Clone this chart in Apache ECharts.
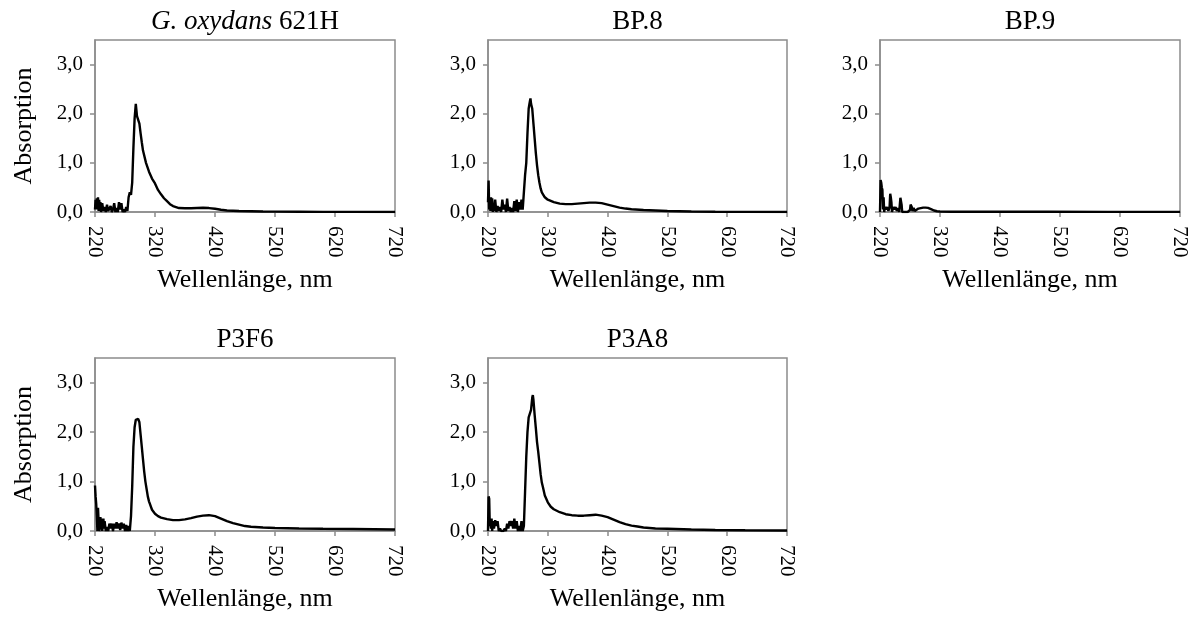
<!DOCTYPE html>
<html>
<head>
<meta charset="utf-8">
<script src="https://cdn.jsdelivr.net/npm/echarts@6/dist/echarts.min.js"></script>
<style>
html,body{margin:0;padding:0;background:#fff;}
#chart{width:1193px;height:617px;}
</style>
</head>
<body>
<div id="chart"></div>
<script>
// ---- Data (wavelength in nm, absorption) ----
const panelTitles = ['{i|G. oxydans} 621H', 'BP.8', 'BP.9', 'P3F6', 'P3A8'];
const xTicks = [220, 320, 420, 520, 620, 720];
const yTicks = [0, 1, 2, 3];

const wlGox = [220,221,222,223,224,225,226,227,228,229,230,232,234,236,238,240,242,244,246,248,250,252,254,256,258,260,262,264,266,268,270,272,274,276,278,280,282,284,286,288,290,292,294,296,298,300,305,310,315,320,325,330,335,340,345,350,355,360,370,380,390,400,410,420,430,440,450,460,480,500,520,560,600,650,720];
const absGox = [0.05,0.25,0.05,0.28,0.10,0.30,0.02,0.25,0.05,0.20,0.00,0.18,0.02,0.10,0.00,0.15,0.02,0.00,0.12,0.00,0.05,0.18,0.00,0.08,0.00,0.20,0.05,0.18,0.00,0.05,0.00,0.10,0.02,0.30,0.40,0.35,0.60,1.30,1.90,2.20,1.95,1.98,1.80,1.60,1.42,1.25,1.00,0.82,0.68,0.58,0.45,0.36,0.28,0.22,0.16,0.12,0.10,0.08,0.075,0.075,0.08,0.085,0.08,0.065,0.045,0.03,0.025,0.02,0.015,0.01,0.008,0.005,0.003,0.002,0.0];

const wlBP8 = [220,221,222,223,224,225,226,227,228,229,230,232,234,236,238,240,242,244,246,248,250,252,254,256,258,260,262,264,266,268,270,272,274,276,278,280,282,284,286,288,289,290,291,292,294,296,298,300,302,304,306,308,310,315,320,330,340,350,360,370,380,390,400,410,420,430,440,450,460,480,500,520,560,600,650,720];
const absBP8 = [0.20,0.64,0.05,0.25,0.02,0.30,0.05,0.28,0.00,0.15,0.02,0.25,0.00,0.12,0.02,0.10,0.00,0.25,0.05,0.15,0.00,0.27,0.02,0.10,0.00,0.08,0.00,0.22,0.02,0.25,0.00,0.20,0.05,0.25,0.05,0.40,0.75,1.00,1.60,2.10,2.18,2.25,2.31,2.20,2.10,1.80,1.50,1.20,0.95,0.75,0.60,0.48,0.40,0.30,0.25,0.20,0.17,0.16,0.16,0.17,0.18,0.19,0.19,0.18,0.15,0.12,0.09,0.07,0.055,0.04,0.03,0.02,0.01,0.005,0.003,0.0];

const wlBP9 = [220,221,222,223,224,225,226,227,228,230,232,234,236,237,238,239,240,242,244,246,248,250,252,254,255,256,257,260,262,264,266,268,270,271,272,273,274,276,278,280,284,288,292,296,300,305,310,315,320,340,400,500,600,720];
const absBP9 = [0.0,0.65,0.60,0.50,0.45,0.05,0.30,0.0,0.10,0.05,0.10,0.02,0.10,0.37,0.30,0.20,0.0,0.10,0.05,0.10,0.02,0.08,0.0,0.29,0.25,0.15,0.0,0.03,0.0,0.02,0.0,0.0,0.04,0.15,0.13,0.10,0.02,0.08,0.02,0.05,0.07,0.08,0.09,0.09,0.085,0.06,0.03,0.015,0.01,0.005,0.005,0.004,0.003,0.002];

const wlP3F6 = [220,221,222,223,224,225,226,227,228,229,230,231,232,234,235,236,238,240,242,244,246,248,250,252,254,256,258,260,262,264,266,268,270,272,274,276,278,280,282,284,286,288,290,292,294,296,298,300,302,304,306,308,310,315,320,325,330,340,350,360,370,380,390,400,410,420,430,440,450,460,470,480,500,520,560,600,650,720];
const absP3F6 = [0.92,0.70,0.55,0.30,0.00,0.47,0.20,0.00,0.05,0.28,0.10,0.25,0.00,0.25,0.05,0.20,0.00,0.08,0.00,0.15,0.05,0.15,0.00,0.15,0.05,0.18,0.05,0.15,0.02,0.17,0.05,0.15,0.00,0.12,0.00,0.10,0.00,0.30,0.90,1.70,2.10,2.25,2.28,2.27,2.20,1.95,1.70,1.45,1.20,1.00,0.85,0.70,0.60,0.43,0.35,0.30,0.27,0.24,0.22,0.22,0.235,0.26,0.29,0.31,0.32,0.30,0.25,0.20,0.16,0.13,0.10,0.085,0.07,0.06,0.05,0.045,0.04,0.03];

const wlP3A8 = [220,221,222,223,224,225,226,227,228,230,232,234,236,238,240,242,244,246,248,250,252,254,256,258,260,262,264,266,268,270,272,274,276,278,280,282,284,286,288,289,290,292,294,295,296,298,300,302,304,306,308,310,312,315,320,325,330,340,350,360,370,380,390,400,410,420,430,440,450,460,470,480,500,520,560,600,650,720];
const absP3A8 = [0.0,0.70,0.65,0.10,0.20,0.05,0.25,0.0,0.20,0.05,0.22,0.10,0.20,0.0,0.05,0.0,0.02,0.0,0.05,0.0,0.15,0.05,0.20,0.10,0.20,0.05,0.25,0.05,0.20,0.0,0.10,0.0,0.20,0.0,0.10,0.80,1.50,2.00,2.30,2.33,2.30,2.45,2.70,2.75,2.65,2.35,2.08,1.80,1.60,1.38,1.15,0.98,0.88,0.72,0.58,0.49,0.44,0.38,0.34,0.32,0.31,0.31,0.32,0.33,0.31,0.28,0.23,0.18,0.14,0.11,0.09,0.07,0.05,0.045,0.03,0.02,0.015,0.01];

const panelWl = [wlGox, wlBP8, wlBP9, wlP3F6, wlP3A8];
const panelAbs = [absGox, absBP8, absBP9, absP3F6, absP3A8];

// ---- Layout ----
const FONT = 'Liberation Serif';
const GRAY = '#8c8c8c';
const grids = [
  {left: 95, top: 40, width: 300, height: 172},
  {left: 488, top: 40, width: 299, height: 172},
  {left: 880, top: 40, width: 300, height: 172},
  {left: 95, top: 358, width: 300, height: 173},
  {left: 488, top: 358, width: 299, height: 173}
];
const showYName = [true, false, false, true, false];

const fmtY = v => v.toFixed(1).replace('.', ',');

const option = {
  animation: false,
  backgroundColor: '#fff',
  title: grids.map((g, i) => ({
    text: panelTitles[i],
    left: g.left + g.width / 2,
    top: g.top - 32,
    textAlign: 'center',
    padding: 0,
    textStyle: {
      fontFamily: FONT, fontSize: 27, fontWeight: 'normal', color: '#000',
      rich: {i: {fontFamily: FONT, fontSize: 27, fontStyle: 'italic', color: '#000'}}
    }
  })),
  grid: grids.map(g => Object.assign({show: true, borderColor: GRAY, borderWidth: 1.5, backgroundColor: 'transparent', containLabel: false}, g)),
  xAxis: grids.map((g, i) => ({
    gridIndex: i, type: 'value', min: 220, max: 720, interval: 100,
    name: 'Wellenlänge, nm', nameLocation: 'middle', nameGap: 55,
    nameTextStyle: {fontFamily: FONT, fontSize: 26, color: '#000'},
    axisLine: {show: true, lineStyle: {color: GRAY, width: 1.5}},
    axisTick: {show: true, length: 5, customValues: xTicks, lineStyle: {color: GRAY, width: 1.5}},
    axisLabel: {rotate: -90, customValues: xTicks, fontFamily: FONT, fontSize: 21, color: '#000', margin: 14},
    splitLine: {show: false}
  })),
  yAxis: grids.map((g, i) => ({
    gridIndex: i, type: 'value', min: 0, max: 3.5, interval: 0.5,
    name: showYName[i] ? 'Absorption' : '', nameLocation: 'middle', nameGap: 58,
    nameTextStyle: {fontFamily: FONT, fontSize: 26, color: '#000'},
    axisLine: {show: true, lineStyle: {color: GRAY, width: 1.5}},
    axisTick: {show: true, length: 5, customValues: yTicks, lineStyle: {color: GRAY, width: 1.5}},
    axisLabel: {customValues: yTicks, formatter: fmtY, fontFamily: FONT, fontSize: 21, color: '#000', margin: 12},
    splitLine: {show: false}
  })),
  series: grids.map((g, i) => ({
    type: 'line', xAxisIndex: i, yAxisIndex: i,
    showSymbol: false, symbol: 'none', smooth: false,
    lineStyle: {color: '#000', width: 2.4},
    data: panelWl[i].map((w, k) => [w, panelAbs[i][k]])
  }))
};

const chart = echarts.init(document.getElementById('chart'), null, {renderer: 'canvas'});
chart.setOption(option);
</script>
</body>
</html>
